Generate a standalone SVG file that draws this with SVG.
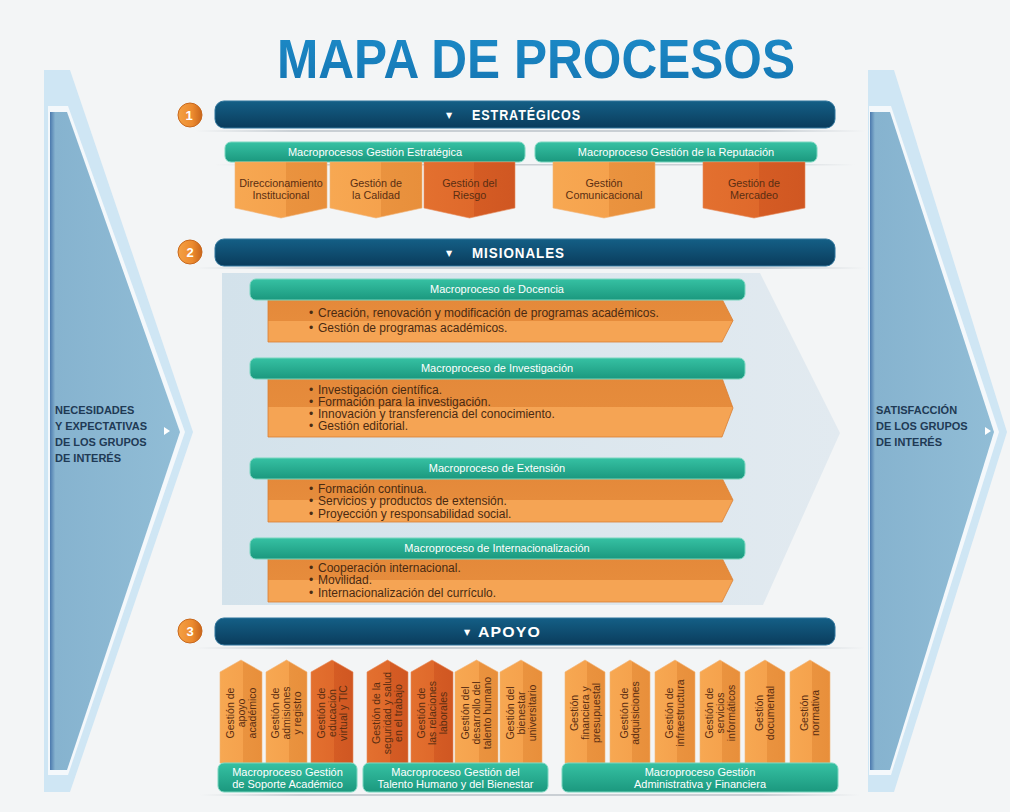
<svg xmlns="http://www.w3.org/2000/svg" width="1010" height="812" viewBox="0 0 1010 812">
<defs>
  <linearGradient id="navy" x1="0" y1="0" x2="0" y2="1">
    <stop offset="0" stop-color="#145f86"/>
    <stop offset="1" stop-color="#0a3c5c"/>
  </linearGradient>
  <linearGradient id="green" x1="0" y1="0" x2="0" y2="1">
    <stop offset="0" stop-color="#36c1a3"/>
    <stop offset="1" stop-color="#1b987e"/>
  </linearGradient>
  <linearGradient id="lite" x1="0" y1="0" x2="1" y2="0">
    <stop offset="0" stop-color="#f7a852"/>
    <stop offset="0.55" stop-color="#f5a24d"/>
    <stop offset="0.55" stop-color="#ea933f"/>
    <stop offset="1" stop-color="#e88f3b"/>
  </linearGradient>
  <linearGradient id="dark" x1="0" y1="0" x2="1" y2="0">
    <stop offset="0" stop-color="#e3702f"/>
    <stop offset="0.55" stop-color="#df692b"/>
    <stop offset="0.55" stop-color="#d55c24"/>
    <stop offset="1" stop-color="#d05722"/>
  </linearGradient>
  <linearGradient id="obody" x1="0" y1="0" x2="0" y2="1">
    <stop offset="0" stop-color="#e4893a"/>
    <stop offset="0.5" stop-color="#e68c3c"/>
    <stop offset="0.5" stop-color="#f5a454"/>
    <stop offset="1" stop-color="#f5a454"/>
  </linearGradient>
  <linearGradient id="numg" x1="0" y1="0" x2="1" y2="0">
    <stop offset="0" stop-color="#f4a044"/>
    <stop offset="0.6" stop-color="#ec8a2e"/>
    <stop offset="1" stop-color="#c8651c"/>
  </linearGradient>
  <linearGradient id="title" x1="0" y1="0" x2="0" y2="1">
    <stop offset="0" stop-color="#1d8cc9"/>
    <stop offset="1" stop-color="#1475b2"/>
  </linearGradient>
  <linearGradient id="misbg" x1="0" y1="0" x2="1" y2="0">
    <stop offset="0" stop-color="#d3e2eb"/>
    <stop offset="1" stop-color="#e2eaf0"/>
  </linearGradient>
  <linearGradient id="arrowfill" x1="0" y1="0" x2="1" y2="0">
    <stop offset="0" stop-color="#4b79ad"/>
    <stop offset="0.04" stop-color="#86b3cf"/>
    <stop offset="1" stop-color="#91bdd6"/>
  </linearGradient>
  <linearGradient id="shadow" x1="0" y1="0" x2="1" y2="0">
    <stop offset="0" stop-color="#c9cfd4" stop-opacity="0"/>
    <stop offset="0.15" stop-color="#c9cfd4"/>
    <stop offset="0.85" stop-color="#c9cfd4"/>
    <stop offset="1" stop-color="#c9cfd4" stop-opacity="0"/>
  </linearGradient>
</defs>
<style>
  text{font-family:"Liberation Sans",Arial,sans-serif}
  .hdr{fill:url(#navy);stroke:#2f759c;stroke-width:1}
  .htxt{font-weight:bold;font-size:14px;fill:#ffffff;letter-spacing:1px}
  .tri{font-family:"DejaVu Sans",sans-serif;font-size:8px;fill:#ffffff}
  .green{fill:url(#green);stroke:#7ad6c0;stroke-width:1}
  .gtxt{font-size:11px;fill:#ffffff;text-anchor:middle}
  .lite{fill:url(#lite);stroke:#f2b57a;stroke-width:0.6}
  .dark{fill:url(#dark);stroke:#e58a5a;stroke-width:0.6}
  .btxt{font-size:10.8px;fill:#5a2e12;text-anchor:middle}
  .vtxt{font-size:10.5px;fill:#5a2e12;text-anchor:middle}
  .mtxt{font-size:12px;fill:#4a2a12}
  .ob{fill:url(#obody);stroke:#d97f34;stroke-width:0.8}
  .num{fill:url(#numg);stroke:#c8681d;stroke-width:1}
  .ntxt{font-weight:bold;font-size:13px;fill:#ffffff;text-anchor:middle}
  .side{font-weight:bold;font-size:11px;fill:#1f3a55}
  .shd{fill:url(#shadow)}
</style>

<rect x="0" y="0" width="1010" height="812" fill="#f3f5f6"/>

<!-- Title -->
<g id="title-node">
  <text x="277" y="78" font-size="55" font-weight="bold" fill="url(#title)" textLength="518" lengthAdjust="spacingAndGlyphs">MAPA DE PROCESOS</text>
</g>

<!-- Left arrow -->
<g id="left-arrow">
  <polygon points="44,70 70,70 193,432 70,792 44,792" fill="#cfe6f4"/>
  <polygon points="48,106 68,106 185,432 68,775 48,775" fill="#f4f8fb"/>
  <polygon points="50,112 67,112 180,432 67,770 50,770" fill="url(#arrowfill)"/>
  <text class="side"><tspan x="55" y="414">NECESIDADES</tspan><tspan x="55" y="430">Y EXPECTATIVAS</tspan><tspan x="55" y="446">DE LOS GRUPOS</tspan><tspan x="55" y="462">DE INTERÉS</tspan></text>
  <polygon points="164,427 170,431 164,435" fill="#ffffff"/>
</g>

<!-- Right arrow -->
<g id="right-arrow">
  <polygon points="868,70 894,70 1007,432 894,792 868,792" fill="#cfe6f4"/>
  <polygon points="869,106 891,106 999,432 891,775 869,775" fill="#f4f8fb"/>
  <polygon points="870,112 890,112 994,432 890,770 870,770" fill="url(#arrowfill)"/>
  <text class="side"><tspan x="876" y="414">SATISFACCIÓN</tspan><tspan x="876" y="430">DE LOS GRUPOS</tspan><tspan x="876" y="446">DE INTERÉS</tspan></text>
  <polygon points="985,427 991,431 985,435" fill="#ffffff"/>
</g>

<!-- shadows -->
<g id="shadows">
  <rect class="shd" x="195" y="130" width="670" height="2"/>
  <rect class="shd" x="215" y="164" width="640" height="1.5"/>
  <rect class="shd" x="195" y="267" width="670" height="2"/>
  <rect class="shd" x="195" y="647" width="670" height="2"/>
  <rect class="shd" x="200" y="794" width="660" height="2"/>
</g>

<!-- 1 ESTRATEGICOS -->
<g id="h-estrategicos">
  <circle class="num" cx="190" cy="115" r="12"/>
  <text class="ntxt" x="189" y="120">1</text>
  <rect class="hdr" x="215" y="101" width="620" height="27" rx="9"/>
  <text class="tri" x="446" y="118">▼</text>
  <text class="htxt" x="472" y="119.5" textLength="109" lengthAdjust="spacingAndGlyphs">ESTRATÉGICOS</text>
</g>

<g id="gestion-estrategica">
  <rect class="green" x="225" y="142" width="300" height="20" rx="6"/>
  <text class="gtxt" x="375" y="156">Macroprocesos Gestión Estratégica</text>
</g>
<g id="direccionamiento">
  <polygon class="lite" points="235,162 327,162 327,208 281,218 235,208"/>
  <text class="btxt"><tspan x="281" y="187">Direccionamiento</tspan><tspan x="281" y="198.5">Institucional</tspan></text>
</g>
<g id="calidad">
  <polygon class="lite" points="330,162 422,162 422,208 376,218 330,208"/>
  <text class="btxt"><tspan x="376" y="187">Gestión de</tspan><tspan x="376" y="198.5">la Calidad</tspan></text>
</g>
<g id="riesgo">
  <polygon class="dark" points="424,162 515,162 515,208 469.5,218 424,208"/>
  <text class="btxt"><tspan x="469.5" y="187">Gestión del</tspan><tspan x="469.5" y="198.5">Riesgo</tspan></text>
</g>

<g id="gestion-reputacion">
  <rect class="green" x="535" y="142" width="282" height="20" rx="6"/>
  <text class="gtxt" x="676" y="156">Macroproceso Gestión de la Reputación</text>
</g>
<g id="comunicacional">
  <polygon class="lite" points="553,162 655,162 655,208 604,218 553,208"/>
  <text class="btxt"><tspan x="604" y="187">Gestión</tspan><tspan x="604" y="198.5">Comunicacional</tspan></text>
</g>
<g id="mercadeo">
  <polygon class="dark" points="703,162 805,162 805,208 754,218 703,208"/>
  <text class="btxt"><tspan x="754" y="187">Gestión de</tspan><tspan x="754" y="198.5">Mercadeo</tspan></text>
</g>

<!-- 2 MISIONALES -->
<g id="h-misionales">
  <circle class="num" cx="190" cy="252" r="12"/>
  <text class="ntxt" x="190" y="257">2</text>
  <rect class="hdr" x="215" y="239" width="620" height="27" rx="9"/>
  <text class="tri" x="446" y="256">▼</text>
  <text class="htxt" x="472" y="257.5" textLength="93" lengthAdjust="spacingAndGlyphs">MISIONALES</text>
</g>

<g id="misionales-bg">
  <polygon points="222,273 760,273 840,433 763,605 222,605" fill="url(#misbg)"/>
</g>

<g id="docencia">
  <polygon class="ob" points="268,299 722,299 733,320.5 722,342 268,342"/>
  <rect class="green" x="250" y="279" width="495" height="21" rx="6"/>
  <text class="gtxt" x="497" y="293">Macroproceso de Docencia</text>
  <text class="mtxt"><tspan x="309" y="317">•</tspan><tspan x="318" y="317">Creación, renovación y modificación de programas académicos.</tspan><tspan x="309" y="332">•</tspan><tspan x="318" y="332">Gestión de programas académicos.</tspan></text>
</g>

<g id="investigacion">
  <polygon class="ob" points="268,378 722,378 733,408 722,437 268,437"/>
  <rect class="green" x="250" y="358" width="495" height="21" rx="6"/>
  <text class="gtxt" x="497" y="372">Macroproceso de Investigación</text>
  <text class="mtxt"><tspan x="309" y="394">•</tspan><tspan x="318" y="394">Investigación científica.</tspan><tspan x="309" y="406">•</tspan><tspan x="318" y="406">Formación para la investigación.</tspan><tspan x="309" y="418">•</tspan><tspan x="318" y="418">Innovación y transferencia del conocimiento.</tspan><tspan x="309" y="430">•</tspan><tspan x="318" y="430">Gestión editorial.</tspan></text>
</g>

<g id="extension">
  <polygon class="ob" points="268,478 722,478 733,500 722,522 268,522"/>
  <rect class="green" x="250" y="458" width="495" height="21" rx="6"/>
  <text class="gtxt" x="497" y="472">Macroproceso de Extensión</text>
  <text class="mtxt"><tspan x="309" y="493">•</tspan><tspan x="318" y="493">Formación continua.</tspan><tspan x="309" y="505">•</tspan><tspan x="318" y="505">Servicios y productos de extensión.</tspan><tspan x="309" y="518">•</tspan><tspan x="318" y="518">Proyección y responsabilidad social.</tspan></text>
</g>

<g id="internacionalizacion">
  <polygon class="ob" points="268,558 722,558 733,580 722,602 268,602"/>
  <rect class="green" x="250" y="538" width="495" height="21" rx="6"/>
  <text class="gtxt" x="497" y="552">Macroproceso de Internacionalización</text>
  <text class="mtxt"><tspan x="309" y="572">•</tspan><tspan x="318" y="572">Cooperación  internacional.</tspan><tspan x="309" y="584">•</tspan><tspan x="318" y="584">Movilidad.</tspan><tspan x="309" y="597">•</tspan><tspan x="318" y="597">Internacionalización del currículo.</tspan></text>
</g>

<!-- 3 APOYO -->
<g id="h-apoyo">
  <circle class="num" cx="190" cy="631" r="12"/>
  <text class="ntxt" x="190" y="636">3</text>
  <rect class="hdr" x="215" y="618" width="620" height="27" rx="9"/>
  <text class="tri" x="464" y="635">▼</text>
  <text class="htxt" x="478" y="637" textLength="63" lengthAdjust="spacingAndGlyphs">APOYO</text>
</g>

<g id="apoyo-academico">
  <polygon class="lite" points="220,672 241,660 262,672 262,763 220,763"/>
  <text class="vtxt" transform="translate(241,713) rotate(-90)"><tspan x="0" y="-7.5">Gestión de</tspan><tspan x="0" y="3.5">apoyo</tspan><tspan x="0" y="14.5">académico</tspan></text>
</g>
<g id="admisiones">
  <polygon class="lite" points="266,672 286.5,660 307,672 307,763 266,763"/>
  <text class="vtxt" transform="translate(286.5,713) rotate(-90)"><tspan x="0" y="-7.5">Gestión de</tspan><tspan x="0" y="3.5">admisiones</tspan><tspan x="0" y="14.5">y registro</tspan></text>
</g>
<g id="educacion-virtual">
  <polygon class="dark" points="311,672 332,660 353,672 353,763 311,763"/>
  <text class="vtxt" transform="translate(332,713) rotate(-90)"><tspan x="0" y="-7.5">Gestión de</tspan><tspan x="0" y="3.5">educación</tspan><tspan x="0" y="14.5">virtual y TIC</tspan></text>
</g>
<g id="soporte-academico">
  <rect class="green" x="218" y="763" width="139" height="29" rx="6"/>
  <text class="gtxt"><tspan x="287.5" y="776">Macroproceso Gestión</tspan><tspan x="287.5" y="788">de Soporte Académico</tspan></text>
</g>

<g id="seguridad-salud">
  <polygon class="dark" points="367,672 387.5,660 408,672 408,763 367,763"/>
  <text class="vtxt" transform="translate(387.5,713) rotate(-90)"><tspan x="0" y="-7.5">Gestión de la</tspan><tspan x="0" y="3.5">seguridad y salud</tspan><tspan x="0" y="14.5">en el trabajo</tspan></text>
</g>
<g id="relaciones-laborales">
  <polygon class="dark" points="411,672 432,660 453,672 453,763 411,763"/>
  <text class="vtxt" transform="translate(432,713) rotate(-90)"><tspan x="0" y="-7.5">Gestión de</tspan><tspan x="0" y="3.5">las relaciones</tspan><tspan x="0" y="14.5">laborales</tspan></text>
</g>
<g id="talento-humano">
  <polygon class="lite" points="455,672 476.5,660 498,672 498,763 455,763"/>
  <text class="vtxt" transform="translate(476.5,713) rotate(-90)"><tspan x="0" y="-7.5">Gestión del</tspan><tspan x="0" y="3.5">desarrollo del</tspan><tspan x="0" y="14.5">talento humano</tspan></text>
</g>
<g id="bienestar">
  <polygon class="lite" points="500,672 521,660 542,672 542,763 500,763"/>
  <text class="vtxt" transform="translate(521,713) rotate(-90)"><tspan x="0" y="-7.5">Gestión del</tspan><tspan x="0" y="3.5">bienestar</tspan><tspan x="0" y="14.5">universitario</tspan></text>
</g>
<g id="talento-bienestar">
  <rect class="green" x="363" y="763" width="185" height="29" rx="6"/>
  <text class="gtxt"><tspan x="455.5" y="776">Macroproceso Gestión del</tspan><tspan x="455.5" y="788">Talento Humano y del Bienestar</tspan></text>
</g>

<g id="financiera">
  <polygon class="lite" points="565,672 585,660 605,672 605,763 565,763"/>
  <text class="vtxt" transform="translate(585,713) rotate(-90)"><tspan x="0" y="-7.5">Gestión</tspan><tspan x="0" y="3.5">financiera y</tspan><tspan x="0" y="14.5">presupuestal</tspan></text>
</g>
<g id="adquisiciones">
  <polygon class="lite" points="610,672 630,660 650,672 650,763 610,763"/>
  <text class="vtxt" transform="translate(630,713) rotate(-90)"><tspan x="0" y="-2">Gestión de</tspan><tspan x="0" y="9">adquisiciones</tspan></text>
</g>
<g id="infraestructura">
  <polygon class="lite" points="655,672 675,660 695,672 695,763 655,763"/>
  <text class="vtxt" transform="translate(675,713) rotate(-90)"><tspan x="0" y="-2">Gestión de</tspan><tspan x="0" y="9">infraestructura</tspan></text>
</g>
<g id="servicios-informaticos">
  <polygon class="lite" points="700,672 720,660 740,672 740,763 700,763"/>
  <text class="vtxt" transform="translate(720,713) rotate(-90)"><tspan x="0" y="-7.5">Gestión de</tspan><tspan x="0" y="3.5">servicios</tspan><tspan x="0" y="14.5">informáticos</tspan></text>
</g>
<g id="documental">
  <polygon class="lite" points="745,672 765,660 785,672 785,763 745,763"/>
  <text class="vtxt" transform="translate(765,713) rotate(-90)"><tspan x="0" y="-2">Gestión</tspan><tspan x="0" y="9">documental</tspan></text>
</g>
<g id="normativa">
  <polygon class="lite" points="790,672 810,660 830,672 830,763 790,763"/>
  <text class="vtxt" transform="translate(810,713) rotate(-90)"><tspan x="0" y="-2">Gestión</tspan><tspan x="0" y="9">normativa</tspan></text>
</g>
<g id="administrativa-financiera">
  <rect class="green" x="562" y="763" width="276" height="29" rx="6"/>
  <text class="gtxt"><tspan x="700" y="776">Macroproceso Gestión</tspan><tspan x="700" y="788">Administrativa y Financiera</tspan></text>
</g>

<g id="connectors"></g>
</svg>
